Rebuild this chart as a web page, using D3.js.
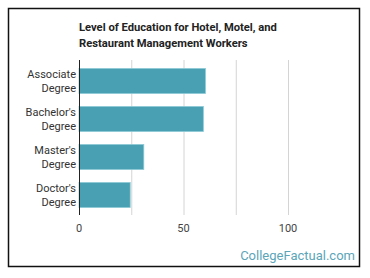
<!DOCTYPE html>
<html>
<head>
<meta charset="utf-8">
<script src="https://cdn.jsdelivr.net/npm/d3@7"></script>
<style>
  body { margin: 0; background: #fff; }
  svg { display: block; font-family: Roboto, "Noto Sans", sans-serif; }
</style>
</head>
<body>
<svg id="chart" width="370" height="278"></svg>
<script>
// data
var degrees = ["Associate Degree", "Bachelor's Degree", "Master's Degree", "Doctor's Degree"];
var labelLines = [["Associate", "Degree"], ["Bachelor's", "Degree"], ["Master's", "Degree"], ["Doctor's", "Degree"]];
var workers = [60.5, 59.5, 31, 24.5];
var tickValues = [0, 50, 100];
var gridValues = [0, 25, 50, 75, 100];

var svg = d3.select("#chart");

// frame
svg.append("rect")
    .attr("x", 8.5).attr("y", 8.5)
    .attr("width", 351).attr("height", 258)
    .attr("fill", "#fff")
    .attr("stroke", "#111")
    .attr("stroke-width", 1.5);

// title
var title = svg.append("text")
    .attr("x", 79).attr("y", 31)
    .attr("font-size", 11.2).attr("font-weight", "bold")
    .attr("fill", "#222");
title.append("tspan").attr("x", 79).attr("dy", 0).text("Level of Education for Hotel, Motel, and");
title.append("tspan").attr("x", 79).attr("dy", 16).text("Restaurant Management Workers");

var x = d3.scaleLinear().domain([0, 100]).range([79, 288]);
var y = d3.scaleBand().domain(degrees).range([62, 214]).paddingInner(0.34).paddingOuter(0.17);

// grid
svg.selectAll(".grid")
    .data(gridValues.slice(1))
    .enter()
    .append("line")
    .attr("class", "grid")
    .attr("x1", function (d) { return x(d) + 0.5 })
    .attr("x2", function (d) { return x(d) + 0.5 })
    .attr("y1", 60).attr("y2", 215)
    .attr("stroke", "#d4d4d4")
    .attr("stroke-width", 1);

// bars
svg.selectAll(".bar")
    .data(degrees)
    .enter()
    .append("rect")
    .attr("class", "bar")
    .attr("x", x(0))
    .attr("y", function (d) { return y(d) })
    .attr("width", function (d, i) { return x(workers[i]) - x(0) })
    .attr("height", y.bandwidth())
    .attr("fill", "#4aa0b3")
    .attr("stroke", "#8ccad6")
    .attr("stroke-width", 0.8);

// baseline axis
svg.append("line")
    .attr("x1", x(0) + 0.5).attr("x2", x(0) + 0.5)
    .attr("y1", 60).attr("y2", 215)
    .attr("stroke", "#222")
    .attr("stroke-width", 1);

// category labels
svg.selectAll(".cat")
    .data(degrees)
    .enter()
    .append("text")
    .attr("class", "cat")
    .attr("text-anchor", "end")
    .attr("font-size", 11)
    .attr("fill", "#333")
    .each(function (d, i) {
        var cy = y(d) + y.bandwidth() / 2;
        var t = d3.select(this);
        labelLines[i].forEach(function (line, j) {
            t.append("tspan")
                .attr("x", 76)
                .attr("y", cy - 3 + j * 14)
                .text(line);
        });
    });

// x tick labels
svg.selectAll(".tick")
    .data(tickValues)
    .enter()
    .append("text")
    .attr("class", "tick")
    .attr("x", function (d) { return x(d) })
    .attr("y", 232)
    .attr("text-anchor", "middle")
    .attr("font-size", 11)
    .attr("fill", "#444")
    .text(function (d) { return d });

// watermark
svg.append("text")
    .attr("x", 355).attr("y", 260)
    .attr("text-anchor", "end")
    .attr("font-size", 13)
    .attr("fill", "#5ba5b9")
    .text("CollegeFactual.com");
</script>
</body>
</html>
